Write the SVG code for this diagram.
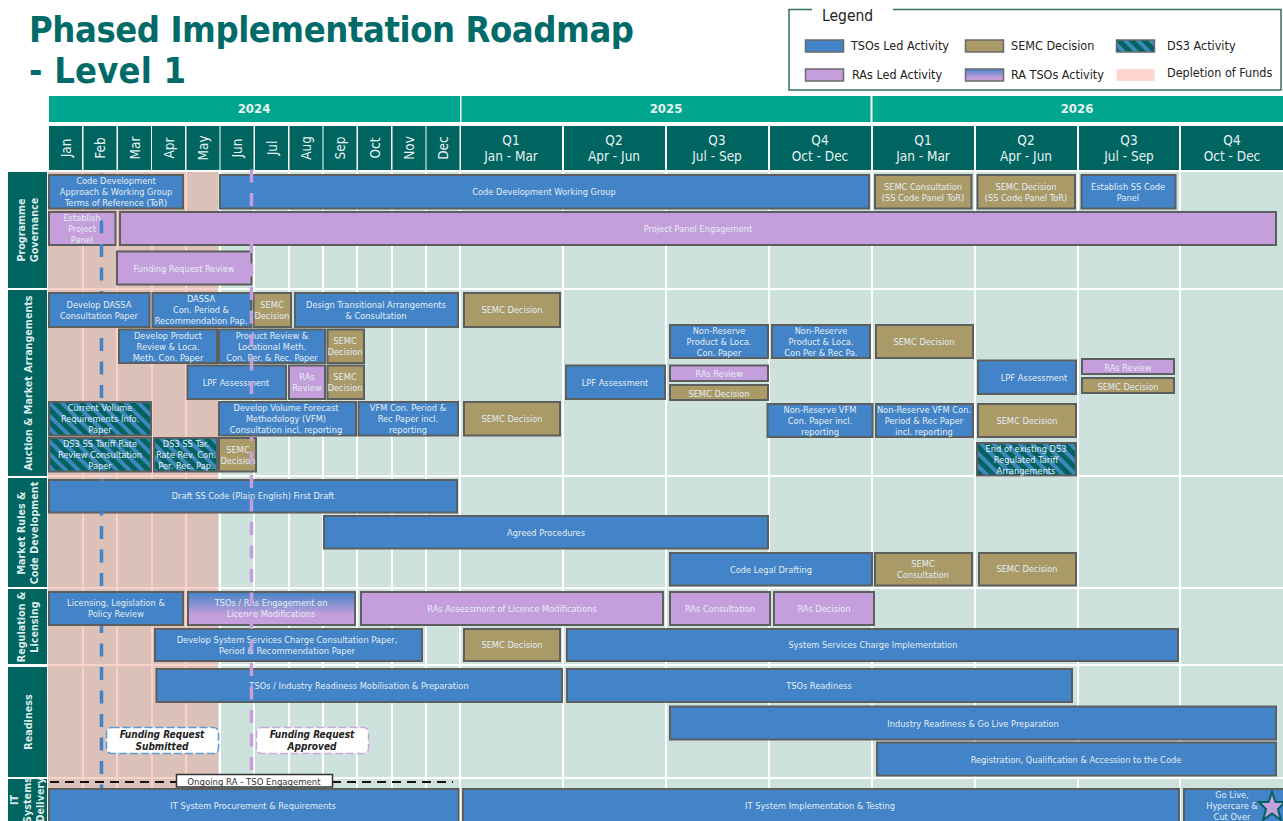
<svg xmlns="http://www.w3.org/2000/svg" width="1283" height="821" viewBox="0 0 1283 821">
<style>
text{font-family:"DejaVu Sans","Liberation Sans",sans-serif;font-stretch:condensed;text-anchor:middle}
.t{font-size:9.2px;fill:#e4edf5}
.b rect,.p rect,.s rect,.d rect,.g rect{stroke:#5c5f5e;stroke-width:2}
.b rect{fill:#4284c7}.p rect{fill:#c59fdb}.s rect{fill:#a99a68}.d rect{fill:url(#ds3)}.g rect{fill:url(#ra)}
.y{fill:#00a78e}.h{fill:#006461}
.yt{font-size:13px;font-weight:bold;fill:#e6f5f2}
.ht{font-size:13.5px;fill:#e6f2f1}
.sec{font-size:10.700px;fill:#dcecea;font-weight:bold}
.grid line{stroke:#fff;stroke-width:2}
.pg line{stroke:#f8d2cb;stroke-width:2}
.lg{font-size:12.500px;fill:#222;text-anchor:start}
.sw{stroke:#6a6a6a;stroke-width:1.500}
.co{fill:#fff;stroke-width:1.500;stroke-dasharray:8 3}
.cot{font-size:10px;font-weight:bold;font-style:italic;fill:#222}
.ti{text-anchor:start;font-weight:bold;font-size:36px;fill:#006b69}
</style>
<defs>
<pattern id="ds3" width="9" height="9" patternUnits="userSpaceOnUse" patternTransform="rotate(-45)"><rect width="9" height="9" fill="#00635f" stroke="none"/><rect width="4" height="9" fill="#3f86bb" stroke="none"/></pattern>
<linearGradient id="ra" x1="0" y1="0" x2="0" y2="1"><stop offset="0" stop-color="#4284c7"/><stop offset="0.700" stop-color="#c59fdb"/></linearGradient>
</defs>
<rect width="1283" height="821" fill="#fff"/>
<text id="title" class="ti" x="29" y="42" textLength="605" lengthAdjust="spacing">Phased Implementation Roadmap</text>
<text class="ti" x="29" y="83" textLength="157" lengthAdjust="spacing">- Level 1</text>
<g id="legend">
<rect x="789" y="9.500" width="492" height="80.500" fill="#fff" stroke="#2f6f66" stroke-width="1.500"/>
<rect x="812" y="0" width="81" height="14" fill="#fff"/>
<text x="822" y="21" style="text-anchor:start;font-size:15.500px;fill:#222">Legend</text>
<rect class="sw" x="805.500" y="40" width="38" height="12" fill="#4284c7"/><text class="lg" x="851" y="50">TSOs Led Activity</text>
<rect class="sw" x="965.500" y="40" width="38" height="12" fill="#a99a68"/><text class="lg" x="1011" y="50">SEMC Decision</text>
<rect class="sw" x="1116.500" y="40" width="38" height="12" fill="url(#ds3)"/><text class="lg" x="1167" y="50">DS3 Activity</text>
<rect class="sw" x="805.500" y="69" width="38" height="12" fill="#c59fdb"/><text class="lg" x="852" y="79">RAs Led Activity</text>
<rect class="sw" x="965.500" y="69" width="38" height="12" fill="url(#ra)"/><text class="lg" x="1011" y="79">RA TSOs Activity</text>
<rect x="1116.500" y="69" width="38" height="12" fill="#ffd5cf"/><text class="lg" x="1167" y="77">Depletion of Funds</text>
</g>
<g id="header">
<rect class="y" x="49" y="96" width="411" height="26"/><rect class="y" x="461.500" y="96" width="409" height="26"/><rect class="y" x="872.500" y="96" width="410.500" height="26"/>
<text class="yt" x="254" y="113">2024</text><text class="yt" x="666" y="113">2025</text><text class="yt" x="1077" y="113">2026</text>
<g class="h">
<rect x="49" y="126" width="33" height="44"/><rect x="83.500" y="126" width="33" height="44"/><rect x="118" y="126" width="33" height="44"/><rect x="152" y="126" width="33" height="44"/><rect x="186.500" y="126" width="33" height="44"/><rect x="220.500" y="126" width="33" height="44"/><rect x="255" y="126" width="33" height="44"/><rect x="289.500" y="126" width="33" height="44"/><rect x="323.500" y="126" width="33" height="44"/><rect x="358" y="126" width="33" height="44"/><rect x="392.500" y="126" width="33" height="44"/><rect x="426.500" y="126" width="33" height="44"/>
<rect x="461" y="126" width="101" height="44"/><rect x="564" y="126" width="101" height="44"/><rect x="667" y="126" width="101" height="44"/><rect x="770" y="126" width="101" height="44"/><rect x="873" y="126" width="101" height="44"/><rect x="976" y="126" width="101" height="44"/><rect x="1079" y="126" width="100" height="44"/><rect x="1181" y="126" width="102" height="44"/>
</g>
<text class="ht" transform="translate(71,148) rotate(-90)">Jan</text><text class="ht" transform="translate(105,148) rotate(-90)">Feb</text><text class="ht" transform="translate(140,148) rotate(-90)">Mar</text><text class="ht" transform="translate(174,148) rotate(-90)">Apr</text><text class="ht" transform="translate(208,148) rotate(-90)">May</text><text class="ht" transform="translate(242,148) rotate(-90)">Jun</text><text class="ht" transform="translate(277,148) rotate(-90)">Jul</text><text class="ht" transform="translate(311,148) rotate(-90)">Aug</text><text class="ht" transform="translate(345,148) rotate(-90)">Sep</text><text class="ht" transform="translate(380,148) rotate(-90)">Oct</text><text class="ht" transform="translate(414,148) rotate(-90)">Nov</text><text class="ht" transform="translate(448,148) rotate(-90)">Dec</text>
<text class="ht" x="511" y="145">Q1</text><text class="ht" x="511" y="161">Jan - Mar</text>
<text class="ht" x="614" y="145">Q2</text><text class="ht" x="614" y="161">Apr - Jun</text>
<text class="ht" x="717" y="145">Q3</text><text class="ht" x="717" y="161">Jul - Sep</text>
<text class="ht" x="820" y="145">Q4</text><text class="ht" x="820" y="161">Oct - Dec</text>
<text class="ht" x="923" y="145">Q1</text><text class="ht" x="923" y="161">Jan - Mar</text>
<text class="ht" x="1026" y="145">Q2</text><text class="ht" x="1026" y="161">Apr - Jun</text>
<text class="ht" x="1129" y="145">Q3</text><text class="ht" x="1129" y="161">Jul - Sep</text>
<text class="ht" x="1232" y="145">Q4</text><text class="ht" x="1232" y="161">Oct - Dec</text>
</g>
<g id="background">
<rect x="48" y="172" width="1235" height="649" fill="#cde2dc"/>
<rect x="48" y="172" width="170" height="649" fill="#dcc1b8"/>
<g class="grid">
<line x1="220" y1="172" x2="220" y2="821"/><line x1="254" y1="172" x2="254" y2="821"/><line x1="289" y1="172" x2="289" y2="821"/><line x1="323" y1="172" x2="323" y2="821"/><line x1="357" y1="172" x2="357" y2="821"/><line x1="392" y1="172" x2="392" y2="821"/><line x1="426" y1="172" x2="426" y2="821"/><line x1="460" y1="172" x2="460" y2="821"/><line x1="563" y1="172" x2="563" y2="821"/><line x1="666" y1="172" x2="666" y2="821"/><line x1="769" y1="172" x2="769" y2="821"/><line x1="872" y1="172" x2="872" y2="821"/><line x1="975" y1="172" x2="975" y2="821"/><line x1="1078" y1="172" x2="1078" y2="821"/><line x1="1180" y1="172" x2="1180" y2="821"/>
<line x1="218" y1="289" x2="1283" y2="289"/><line x1="218" y1="476" x2="1283" y2="476"/><line x1="218" y1="588" x2="1283" y2="588"/><line x1="218" y1="665" x2="1283" y2="665"/><line x1="218" y1="778" x2="1283" y2="778"/>
</g>
<g class="pg">
<line x1="83" y1="172" x2="83" y2="821"/><line x1="117" y1="172" x2="117" y2="821"/><line x1="152" y1="172" x2="152" y2="821"/><line x1="186" y1="172" x2="186" y2="821"/>
<line x1="48" y1="289" x2="218" y2="289"/><line x1="48" y1="476" x2="218" y2="476"/><line x1="48" y1="588" x2="218" y2="588"/><line x1="48" y1="665" x2="218" y2="665"/><line x1="48" y1="778" x2="218" y2="778"/>
</g>
</g>
<g id="sections">
<g id="sec-programme"><rect class="h" x="8" y="172" width="39" height="116"/><text class="sec" transform="translate(25,230) rotate(-90)">Programme</text><text class="sec" transform="translate(38,230) rotate(-90)">Governance</text></g>
<g id="sec-auction"><rect class="h" x="8" y="290" width="39" height="186"/><text class="sec" transform="translate(32,383) rotate(-90)">Auction &amp; Market Arrangements</text></g>
<g id="sec-market"><rect class="h" x="8" y="478" width="39" height="109"/><text class="sec" transform="translate(25,533) rotate(-90)">Market Rules &amp;</text><text class="sec" transform="translate(38,533) rotate(-90)">Code Development</text></g>
<g id="sec-regulation"><rect class="h" x="8" y="589" width="39" height="75"/><text class="sec" transform="translate(25,627) rotate(-90)">Regulation &amp;</text><text class="sec" transform="translate(38,627) rotate(-90)">Licensing</text></g>
<g id="sec-readiness"><rect class="h" x="8" y="667" width="39" height="110"/><text class="sec" transform="translate(32,722) rotate(-90)">Readiness</text></g>
<g id="sec-it"><rect class="h" x="8" y="779" width="39" height="42"/><text class="sec" transform="translate(18,800) rotate(-90)">IT</text><text class="sec" transform="translate(31,800) rotate(-90)">Systems</text><text class="sec" transform="translate(44,800) rotate(-90)">Delivery</text></g>
</g>
<g id="nodes">
<g id="n2" class="b"><rect x="220" y="175" width="649" height="33.500"/><text class="t" x="544" y="195">Code Development Working Group</text></g>
<g id="n3" class="s"><rect x="875" y="175" width="96.500" height="33.500"/><text class="t" x="923" y="189.500">SEMC Consultation</text><text class="t" x="923" y="200.500">(SS Code Panel ToR)</text></g>
<g id="n4" class="s"><rect x="977.500" y="175" width="97.500" height="33.500"/><text class="t" x="1026" y="189.500">SEMC Decision</text><text class="t" x="1026" y="200.500">(SS Code Panel ToR)</text></g>
<g id="n5" class="b"><rect x="1081.500" y="175" width="94" height="33.500"/><text class="t" x="1128" y="189.500">Establish SS Code</text><text class="t" x="1128" y="200.500">Panel</text></g>
<g id="n6" class="p"><rect x="49" y="212" width="66.500" height="33"/><text class="t" x="82" y="221">Establish</text><text class="t" x="82" y="232">Project</text><text class="t" x="82" y="243">Panel</text></g>
<g id="n7" class="p"><rect x="120" y="212" width="1156" height="33"/><text class="t" x="698" y="232">Project Panel Engagement</text></g>
<g id="n8" class="p"><rect x="117" y="251.500" width="134.500" height="33"/><text class="t" x="184" y="271.500">Funding Request Review</text></g>
<g id="n10" class="b"><rect x="152.500" y="293" width="98.500" height="34"/><text class="t" x="201" y="302">DASSA</text><text class="t" x="201" y="313">Con. Period &amp;</text><text class="t" x="201" y="324">Recommendation Pap.</text></g>
<g id="n11" class="s"><rect x="253.500" y="293" width="37.500" height="34"/><text class="t" x="272" y="308">SEMC</text><text class="t" x="272" y="319">Decision</text></g>
<g id="n12" class="b"><rect x="295" y="293" width="163" height="34"/><text class="t" x="376" y="308">Design Transitional Arrangements</text><text class="t" x="376" y="319">&amp; Consultation</text></g>
<g id="n13" class="s"><rect x="464" y="293" width="96" height="34"/><text class="t" x="512" y="313">SEMC Decision</text></g>
<g id="n14" class="b"><rect x="119" y="329.500" width="98" height="33.500"/><text class="t" x="168" y="339">Develop Product</text><text class="t" x="168" y="350">Review &amp; Loca.</text><text class="t" x="168" y="361">Meth. Con. Paper</text></g>
<g id="n15" class="b"><rect x="219" y="329.500" width="106" height="33.500"/><text class="t" x="272" y="339">Product Review &amp;</text><text class="t" x="272" y="350">Locational Meth.</text><text class="t" x="272" y="361">Con. Per. &amp; Rec. Paper</text></g>
<g id="n16" class="s"><rect x="327.500" y="329.500" width="36.500" height="33.500"/><text class="t" x="345" y="344">SEMC</text><text class="t" x="345" y="355">Decision</text></g>
<g id="n17" class="b"><rect x="187.500" y="365.500" width="98.500" height="33.500"/><text class="t" x="236" y="386">LPF Assessment</text></g>
<g id="n18" class="p"><rect x="289" y="365.500" width="36" height="33.500"/><text class="t" x="307" y="380">RAs</text><text class="t" x="307" y="391">Review</text></g>
<g id="n19" class="s"><rect x="327.500" y="365.500" width="36.500" height="33.500"/><text class="t" x="345" y="380">SEMC</text><text class="t" x="345" y="391">Decision</text></g>
<g id="n20" class="s"><rect x="464" y="402" width="96" height="33.500"/><text class="t" x="512" y="422">SEMC Decision</text></g>
<g id="n21" class="s"><rect x="219" y="438" width="37" height="33.500"/><text class="t" x="238" y="452.500">SEMC</text><text class="t" x="238" y="463.500">Decision</text></g>
<g id="n22" class="b"><rect x="670" y="325" width="98" height="33"/><text class="t" x="719" y="334">Non-Reserve</text><text class="t" x="719" y="345">Product &amp; Loca.</text><text class="t" x="719" y="356">Con. Paper</text></g>
<g id="n23" class="b"><rect x="772" y="325" width="98" height="33"/><text class="t" x="821" y="334">Non-Reserve</text><text class="t" x="821" y="345">Product &amp; Loca.</text><text class="t" x="821" y="356">Con Per &amp; Rec Pa.</text></g>
<g id="n24" class="s"><rect x="876" y="325" width="97" height="33"/><text class="t" x="924" y="345">SEMC Decision</text></g>
<g id="n25" class="b"><rect x="566" y="365.500" width="99" height="33.500"/><text class="t" x="615" y="386">LPF Assessment</text></g>
<g id="n26" class="p"><rect x="670" y="365.500" width="98" height="15.500"/><text class="t" x="719" y="377">RAs Review</text></g>
<g id="n27" class="s"><rect x="670" y="385" width="98" height="15"/><text class="t" x="719" y="396.500">SEMC Decision</text></g>
<g id="n28" class="b"><rect x="767.500" y="404" width="105" height="33"/><text class="t" x="820" y="413">Non-Reserve VFM</text><text class="t" x="820" y="424">Con. Paper incl.</text><text class="t" x="820" y="435">reporting</text></g>
<g id="n29" class="b"><rect x="876" y="404" width="97" height="33"/><text class="t" x="924" y="413">Non-Reserve VFM Con.</text><text class="t" x="924" y="424">Period &amp; Rec Paper</text><text class="t" x="924" y="435">incl. reporting</text></g>
<g id="n30" class="s"><rect x="978" y="404" width="98" height="33"/><text class="t" x="1027" y="424">SEMC Decision</text></g>
<g id="n31" class="b"><rect x="978" y="360.500" width="98" height="33.500"/><text class="t" x="1034" y="381">LPF Assessment</text></g>
<g id="n32" class="p"><rect x="1082" y="359" width="92" height="15"/><text class="t" x="1128" y="370.500">RAs Review</text></g>
<g id="n33" class="s"><rect x="1082" y="378" width="92" height="15"/><text class="t" x="1128" y="389.500">SEMC Decision</text></g>
<g id="n35" class="b"><rect x="49" y="480" width="408" height="32.500"/><text class="t" x="253" y="499">Draft SS Code (Plain English) First Draft</text></g>
<g id="n36" class="b"><rect x="324" y="516" width="444" height="32.500"/><text class="t" x="546" y="536">Agreed Procedures</text></g>
<g id="n37" class="b"><rect x="670" y="553" width="202" height="32.500"/><text class="t" x="771" y="573">Code Legal Drafting</text></g>
<g id="n38" class="s"><rect x="875" y="553" width="97" height="32.500"/><text class="t" x="923" y="567">SEMC</text><text class="t" x="923" y="578">Consultation</text></g>
<g id="n39" class="s"><rect x="979" y="553" width="97" height="32.500"/><text class="t" x="1027" y="572">SEMC Decision</text></g>
<g id="n41" class="g"><rect x="188" y="592" width="167" height="33"/><text class="t" x="271" y="606">TSOs / RAs Engagement on</text><text class="t" x="271" y="617">Licence Modifications</text></g>
<g id="n42" class="p"><rect x="361" y="592" width="302" height="33"/><text class="t" x="512" y="612">RAs Assessment of Licence Modifications</text></g>
<g id="n43" class="p"><rect x="670" y="592" width="100" height="33"/><text class="t" x="720" y="612">RAs Consultation</text></g>
<g id="n44" class="p"><rect x="774" y="592" width="100" height="33"/><text class="t" x="824" y="612">RAs Decision</text></g>
<g id="n45" class="b"><rect x="155" y="629" width="267" height="32"/><text class="t" x="287" y="643">Develop System Services Charge Consultation Paper,</text><text class="t" x="287" y="654">Period &amp; Recommendation Paper</text></g>
<g id="n46" class="s"><rect x="464" y="629" width="96" height="32"/><text class="t" x="512" y="648">SEMC Decision</text></g>
<g id="n47" class="b"><rect x="567" y="629" width="611" height="32"/><text class="t" x="873" y="648">System Services Charge Implementation</text></g>
<g id="n48" class="b"><rect x="156.500" y="669" width="405.500" height="33"/><text class="t" x="359" y="689">TSOs / Industry Readiness Mobilisation &amp; Preparation</text></g>
<g id="n49" class="b"><rect x="567" y="669" width="505" height="33"/><text class="t" x="819" y="689">TSOs Readiness</text></g>
<g id="n50" class="b"><rect x="670" y="706.500" width="606" height="33"/><text class="t" x="973" y="726.500">Industry Readiness &amp; Go Live Preparation</text></g>
<g id="n51" class="b"><rect x="877" y="742.500" width="399" height="33"/><text class="t" x="1076" y="762.500">Registration, Qualification &amp; Accession to the Code</text></g>
<g id="n53" class="b"><rect x="463" y="789" width="716" height="36"/><text class="t" x="820" y="808.500">IT System Implementation &amp; Testing</text></g>
<g id="n54" class="b"><rect x="1184" y="789" width="103" height="36"/><text class="t" x="1232" y="798">Go Live,</text><text class="t" x="1232" y="809">Hypercare  &amp;</text><text class="t" x="1232" y="820">Cut Over</text></g>
</g>
<g id="connectors" fill="none">
<line x1="101.500" y1="173.500" x2="101.500" y2="789" stroke="#4284c7" stroke-width="3.500" stroke-dasharray="13 10.500"/>
<line x1="251.500" y1="169.500" x2="251.500" y2="770" stroke="#c59fdb" stroke-width="3.500" stroke-dasharray="13 10.500"/>
<line x1="50" y1="782" x2="176" y2="782" stroke="#111" stroke-width="2" stroke-dasharray="9 6"/>
<line x1="332" y1="782" x2="453" y2="782" stroke="#111" stroke-width="2" stroke-dasharray="9 6"/>
</g>
<g id="nodes-top">
<g id="n1" class="b"><rect x="49" y="175" width="134" height="33.500"/><text class="t" x="116" y="184">Code Development</text><text class="t" x="116" y="195">Approach &amp; Working Group</text><text class="t" x="116" y="206">Terms of Reference (ToR)</text></g>
<g id="n9" class="b"><rect x="49" y="293" width="100.500" height="34"/><text class="t" x="99" y="308">Develop DASSA</text><text class="t" x="99" y="319">Consultation Paper</text></g>
<g id="n40" class="b"><rect x="49" y="592" width="134" height="33"/><text class="t" x="116" y="606">Licensing, Legislation &amp;</text><text class="t" x="116" y="617">Policy Review</text></g>
<g id="n52" class="b"><rect x="49" y="789" width="409.500" height="36"/><text class="t" x="253" y="808.500">IT System Procurement &amp; Requirements</text></g>
<g id="n55" class="d"><rect x="49" y="402" width="102" height="33.500"/><text class="t" x="100" y="411">Current Volume</text><text class="t" x="100" y="422">Requirements Info.</text><text class="t" x="100" y="433">Paper</text></g>
<g id="n56" class="b"><rect x="219" y="402" width="137" height="33.500"/><text class="t" x="286" y="411">Develop Volume Forecast</text><text class="t" x="286" y="422">Methodology (VFM)</text><text class="t" x="286" y="433">Consultation incl. reporting</text></g>
<g id="n57" class="b"><rect x="358.500" y="402" width="99.500" height="33.500"/><text class="t" x="408" y="411">VFM Con. Period &amp;</text><text class="t" x="408" y="422">Rec Paper incl.</text><text class="t" x="408" y="433">reporting</text></g>
<g id="n58" class="d"><rect x="49" y="438" width="102" height="33.500"/><text class="t" x="100" y="447">DS3 SS Tariff Rate</text><text class="t" x="100" y="458">Review Consultation</text><text class="t" x="100" y="469">Paper</text></g>
<g id="n59" class="d"><rect x="154" y="438" width="63" height="33.500"/><text class="t" x="186" y="447">DS3 SS Tar.</text><text class="t" x="186" y="458">Rate Rev. Con.</text><text class="t" x="186" y="469">Per. Rec. Pap.</text></g>
<g id="n60" class="d"><rect x="977" y="443" width="99" height="32.500"/><text class="t" x="1026" y="452">End of existing DS3</text><text class="t" x="1026" y="463">Regulated Tariff</text><text class="t" x="1026" y="474">Arrangements</text></g>
<g id="n61"><rect class="co" x="106.500" y="727.500" width="112" height="26" rx="5" stroke="#5a9bd8"/><text class="cot" x="162" y="738">Funding Request</text><text class="cot" x="162" y="750">Submitted</text></g>
<g id="n62"><rect class="co" x="256.500" y="727.500" width="112" height="26" rx="5" stroke="#c9a8e0"/><text class="cot" x="312" y="738">Funding Request</text><text class="cot" x="312" y="750">Approved</text></g>
<g id="n63"><rect x="176.500" y="774.500" width="156" height="12.500" fill="#fff" stroke="#333" stroke-width="1.500"/><text x="254" y="784.500" style="font-size:9.500px;fill:#333">Ongoing RA - TSO Engagement</text></g>
<polygon id="star" points="1272,792 1275.500,802 1285,802 1278,809 1281,820 1272,813.500 1263,820 1266,809 1259,802 1268.500,802" fill="#c59fdb" stroke="#00635f" stroke-width="2"/>
</g>
</svg>
